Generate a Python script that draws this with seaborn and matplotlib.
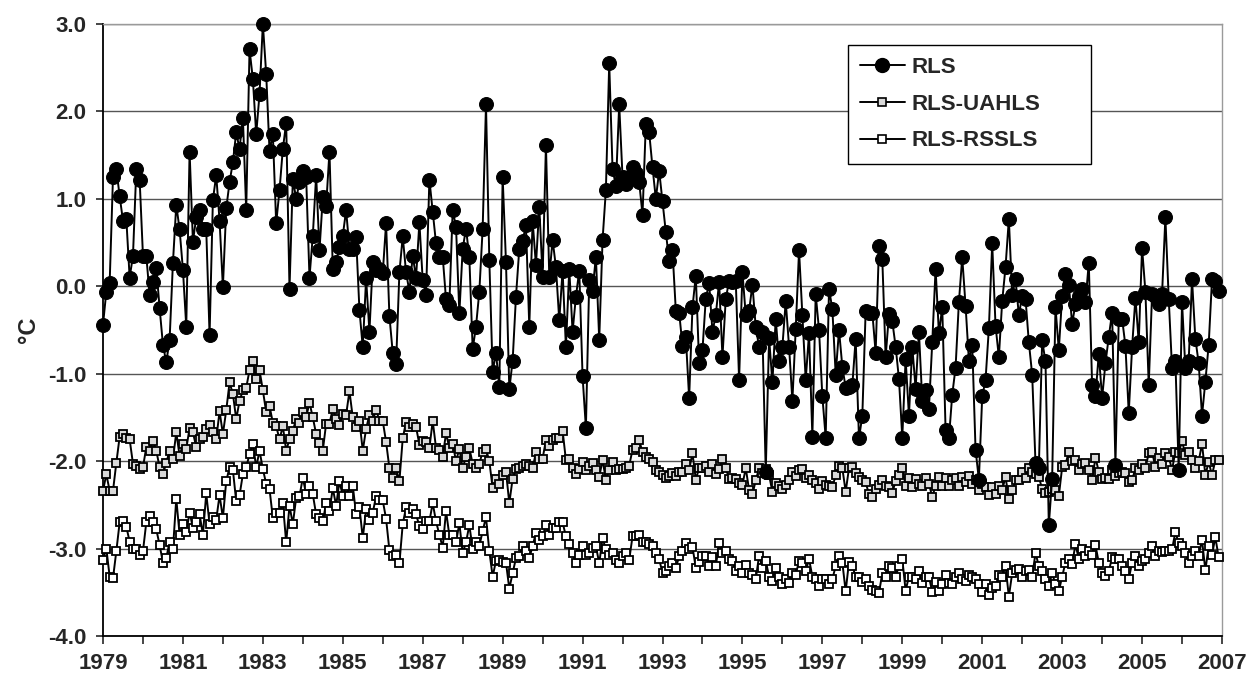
import numpy as np
import pandas as pd
import matplotlib
matplotlib.use("Agg")
import matplotlib.pyplot as plt
from matplotlib.lines import Line2D
import seaborn as sns

# ---- data (monthly, Jan 1979 - Dec 2006) ----
rls = [
    -0.44, -0.06, 0.04, 1.25, 1.34, 1.03, 0.75, 0.77, 0.10, 0.35, 1.34, 1.22,
    0.35, 0.35, -0.10, 0.05, 0.21, -0.25, -0.67, -0.87, -0.61, 0.27, 0.93, 0.65,
    0.19, -0.46, 1.54, 0.51, 0.79, 0.87, 0.66, 0.65, -0.56, 0.99, 1.27, 0.75,
    -0.01, 0.89, 1.19, 1.42, 1.76, 1.57, 1.93, 0.87, 2.71, 2.37, 1.74, 2.20,
    3.00, 2.43, 1.55, 1.74, 0.72, 1.10, 1.57, 1.87, -0.03, 1.23, 1.00, 1.19,
    1.32, 1.25, 0.10, 0.58, 1.27, 0.41, 1.02, 0.92, 1.54, 0.20, 0.28, 0.45,
    0.58, 0.87, 0.43, 0.43, 0.56, -0.27, -0.70, 0.09, -0.52, 0.28, 0.19, 0.20,
    0.15, 0.72, -0.34, -0.76, -0.89, 0.16, 0.57, 0.16, -0.06, 0.35, 0.10, 0.73,
    0.07, -0.10, 1.22, 0.85, 0.49, 0.34, 0.34, -0.15, -0.21, 0.87, 0.68, -0.31,
    0.43, 0.66, 0.33, -0.72, -0.46, -0.06, 0.66, 2.08, 0.30, -0.98, -0.76, -1.15,
    1.25, 0.28, -1.18, -0.85, -0.12, 0.43, 0.52, 0.70, -0.46, 0.75, 0.24, 0.91,
    0.11, 1.62, 0.11, 0.53, 0.22, -0.39, 0.18, -0.70, 0.20, -0.52, -0.12, 0.18,
    -1.03, -1.62, 0.07, -0.05, 0.34, -0.61, 0.53, 1.10, 2.55, 1.34, 1.15, 2.08,
    1.25, 1.17, 1.25, 1.36, 1.30, 1.19, 0.82, 1.86, 1.76, 1.36, 1.00, 1.32,
    0.97, 0.62, 0.29, 0.41, -0.28, -0.30, -0.68, -0.58, -1.28, -0.24, 0.12, -0.88,
    -0.73, -0.14, 0.04, -0.52, -0.33, 0.05, -0.81, -0.14, 0.06, 0.05, 0.06, -1.07,
    0.16, -0.33, -0.28, 0.02, -0.47, -0.69, -0.52, -2.12, -0.59, -1.10, -0.37, -0.86,
    -0.69, -0.17, -0.69, -1.31, -0.49, 0.41, -0.33, -1.07, -0.54, -1.72, -0.09, -0.50,
    -1.26, -1.73, -0.03, -0.26, -1.01, -0.50, -0.92, -1.16, -1.15, -1.13, -0.60, -1.74,
    -1.48, -0.28, -0.30, -0.30, -0.76, 0.46, 0.31, -0.81, -0.32, -0.40, -0.69, -1.06,
    -1.73, -0.83, -1.48, -0.69, -1.17, -0.52, -1.31, -1.19, -1.40,
    -0.64, 0.20, -0.54, -0.24, -1.64, -1.74, -1.24, -0.93, -0.18, 0.33, -0.22,
    -0.85, -0.67, -1.87, -2.21, -1.26, -1.07, -0.48, 0.49, -0.45, -0.81, -0.17, 0.22,
    0.77, -0.10, 0.08, -0.33, -0.11, -0.14, -0.64, -1.01, -2.02, -2.08, -0.62, -0.86,
    -2.73, -2.20, -0.24, -0.73, -0.11, 0.14, 0.02, -0.43, -0.20, -0.11, -0.03, -0.18,
    0.27, -1.13, -1.26, -0.77, -1.28, -0.88, -0.58, -0.30, -2.04, -0.37, -0.37, -0.68,
    -1.45, -0.70, -0.13, -0.64, 0.44, -0.06, -1.13, -0.09, -0.11, -0.20, -0.09, 0.79,
    -0.14, -0.94, -0.85, -2.10, -0.18, -0.94, -0.85, 0.08, -0.60, -0.88, -1.48, -1.09,
    -0.67, 0.08, 0.06, -0.05,
]

rls_uahls = [
    -2.34, -2.15, -2.34, -2.34, -2.02, -1.72, -1.69, -1.73, -1.75, -2.03, -2.05, -2.09,
    -2.07, -1.84, -1.88, -1.77, -1.88, -2.07, -2.15, -2.02, -1.88, -1.98, -1.67, -1.94,
    -1.80, -1.86, -1.62, -1.67, -1.84, -1.75, -1.72, -1.63, -1.59, -1.67, -1.75, -1.43,
    -1.69, -1.42, -1.10, -1.23, -1.52, -1.31, -1.19, -1.16, -0.96, -0.85, -1.06, -0.96,
    -1.19, -1.44, -1.37, -1.56, -1.60, -1.75, -1.60, -1.88, -1.75, -1.65, -1.52, -1.56,
    -1.44, -1.50, -1.33, -1.50, -1.69, -1.79, -1.88, -1.57, -1.57, -1.40, -1.52, -1.59,
    -1.46, -1.47, -1.20, -1.50, -1.61, -1.54, -1.88, -1.63, -1.47, -1.54, -1.41, -1.54,
    -1.54, -1.78, -2.08, -2.19, -2.08, -2.23, -1.74, -1.55, -1.61, -1.58, -1.61, -1.81,
    -1.77, -1.78, -1.85, -1.54, -1.85, -1.87, -1.95, -1.68, -1.85, -1.80, -2.00, -1.86,
    -2.08, -1.95, -1.85, -2.03, -2.08, -2.03, -1.89, -1.86, -2.00, -2.31, -2.20, -2.26,
    -2.16, -2.12, -2.48, -2.20, -2.09, -2.08, -2.05, -2.03, -2.05, -2.08, -1.90, -1.97,
    -1.97, -1.76, -1.83, -1.76, -1.74, -1.74, -1.65, -1.99, -1.97, -2.08, -2.15, -2.09,
    -2.01, -2.10, -2.05, -2.02, -2.10, -2.18, -1.99, -2.21, -2.10, -2.01, -2.10, -2.09,
    -2.09, -2.08, -2.05, -1.87, -1.85, -1.76, -1.90, -1.95, -1.97, -2.01, -2.10, -2.12,
    -2.16, -2.19, -2.17, -2.14, -2.17, -2.12, -2.12, -2.03, -2.10, -1.91, -2.21, -2.08,
    -2.08, -2.05, -2.12, -2.03, -2.15, -2.09, -1.98, -2.08, -2.20, -2.19, -2.20, -2.25,
    -2.27, -2.08, -2.33, -2.38, -2.22, -2.08, -2.14, -2.09, -2.16, -2.35, -2.25, -2.28,
    -2.32, -2.27, -2.22, -2.12, -2.17, -2.10, -2.09, -2.19, -2.16, -2.22, -2.25, -2.32,
    -2.23, -2.27, -2.28, -2.30, -2.16, -2.05, -2.08, -2.35, -2.08, -2.07, -2.14, -2.18,
    -2.22, -2.24, -2.38, -2.41, -2.32, -2.27, -2.22, -2.28, -2.30, -2.36, -2.23, -2.16,
    -2.08, -2.28, -2.19, -2.30, -2.20, -2.26, -2.28, -2.19, -2.26, -2.41,
    -2.28, -2.18, -2.28, -2.19, -2.28, -2.22, -2.19, -2.28, -2.18, -2.24,
    -2.17, -2.26, -2.22, -2.33, -2.26, -2.30, -2.39, -2.30, -2.38, -2.28,
    -2.33, -2.18, -2.43, -2.33, -2.22, -2.22, -2.12, -2.19, -2.08, -2.12,
    -2.15, -2.18, -2.32, -2.37, -2.35, -2.32, -2.33, -2.40, -2.07, -2.04,
    -1.89, -2.00, -1.99, -2.10, -2.03, -2.02, -2.10, -2.22, -1.96, -2.12,
    -2.20, -2.19, -2.20, -2.10, -2.17, -2.13, -2.12, -2.14, -2.24, -2.22,
    -2.08, -2.10, -2.03, -2.08, -1.91, -1.89, -2.07, -1.96, -2.03, -1.91,
    -1.95, -2.10, -1.89, -1.91, -1.77, -1.93, -1.89, -1.99, -2.08, -2.00,
    -1.80, -2.16, -2.01, -2.16, -1.99, -1.99,
]

rls_rssls = [
    -3.13, -3.00, -3.32, -3.34, -3.03, -2.70, -2.68, -2.75, -2.92, -3.00, -3.01, -3.07,
    -3.03, -2.70, -2.63, -2.70, -2.78, -2.96, -3.16, -3.11, -2.92, -3.01, -2.43, -2.84,
    -2.72, -2.81, -2.59, -2.76, -2.70, -2.61, -2.84, -2.37, -2.72, -2.64, -2.67, -2.39,
    -2.65, -2.23, -2.07, -2.10, -2.46, -2.39, -2.15, -2.07, -1.92, -1.80, -2.07, -1.88,
    -2.09, -2.26, -2.32, -2.65, -2.59, -2.59, -2.48, -2.93, -2.51, -2.72, -2.42, -2.40,
    -2.19, -2.38, -2.29, -2.38, -2.61, -2.65, -2.69, -2.48, -2.57, -2.31, -2.51, -2.23,
    -2.40, -2.28, -2.40, -2.28, -2.61, -2.53, -2.88, -2.55, -2.67, -2.59, -2.40, -2.44,
    -2.45, -2.66, -3.02, -3.09, -3.07, -3.17, -2.72, -2.53, -2.59, -2.55, -2.61, -2.74,
    -2.78, -2.69, -2.69, -2.48, -2.69, -2.84, -2.99, -2.57, -2.85, -2.85, -2.93, -2.71,
    -3.05, -2.93, -2.73, -3.01, -2.93, -2.97, -2.80, -2.64, -3.03, -3.32, -3.14, -3.13,
    -3.15, -3.16, -3.46, -3.28, -3.11, -3.09, -2.97, -3.03, -3.11, -2.97, -2.82, -2.90,
    -2.86, -2.73, -2.85, -2.76, -2.76, -2.70, -2.70, -2.86, -2.95, -3.05, -3.16, -3.07,
    -2.97, -3.07, -3.05, -2.99, -2.97, -3.17, -2.88, -3.01, -3.07, -3.05, -3.13, -3.17,
    -3.09, -3.05, -3.13, -2.86, -2.86, -2.85, -2.92, -2.93, -2.95, -2.97, -3.05, -3.12,
    -3.28, -3.26, -3.20, -3.16, -3.22, -3.09, -3.03, -2.94, -3.01, -2.98, -3.22, -3.15,
    -3.08, -3.08, -3.20, -3.10, -3.20, -2.94, -3.05, -3.03, -3.12, -3.14, -3.26, -3.20,
    -3.28, -3.19, -3.28, -3.30, -3.35, -3.08, -3.22, -3.14, -3.32, -3.37, -3.22, -3.32,
    -3.40, -3.35, -3.39, -3.28, -3.30, -3.14, -3.16, -3.26, -3.12, -3.32, -3.35, -3.43,
    -3.35, -3.35, -3.41, -3.35, -3.20, -3.08, -3.16, -3.49, -3.15, -3.20, -3.32, -3.33,
    -3.38, -3.35, -3.43, -3.47, -3.49, -3.51, -3.28, -3.32, -3.20, -3.22, -3.32, -3.20,
    -3.12, -3.48, -3.32, -3.32, -3.35, -3.26, -3.39, -3.32, -3.32, -3.50,
    -3.38, -3.49, -3.41, -3.30, -3.39, -3.41, -3.32, -3.28, -3.35, -3.37,
    -3.30, -3.33, -3.35, -3.41, -3.50, -3.41, -3.53, -3.45, -3.43, -3.30,
    -3.33, -3.20, -3.55, -3.28, -3.24, -3.23, -3.32, -3.26, -3.24, -3.32,
    -3.05, -3.20, -3.26, -3.35, -3.43, -3.28, -3.41, -3.49, -3.32, -3.16,
    -3.12, -3.18, -2.95, -3.12, -3.00, -3.08, -3.03, -3.07, -2.96, -3.16,
    -3.28, -3.31, -3.26, -3.10, -3.12, -3.12, -3.20, -3.26, -3.35, -3.16,
    -3.08, -3.20, -3.14, -3.12, -3.05, -2.97, -3.08, -3.03, -3.04, -3.03,
    -3.03, -3.01, -2.81, -2.94, -2.97, -3.05, -3.16, -3.08, -3.03, -3.08,
    -2.90, -3.25, -2.97, -3.07, -2.87, -3.10,
]

series_names = ["RLS", "RLS-UAHLS", "RLS-RSSLS"]
start_year = 1979
end_year = 2007
y_ticks = [3.0, 2.0, 1.0, 0.0, -1.0, -2.0, -3.0, -4.0]


def to_frame(values, name):
    n = len(values)
    return pd.DataFrame({"year": start_year + np.arange(n) / 12.0,
                         "value": values, "series": name})


df_rls = to_frame(rls, series_names[0])
df_uah = to_frame(rls_uahls, series_names[1])
df_rss = to_frame(rls_rssls, series_names[2])

sns.set_style("white")
plt.rcParams["font.family"] = ["Liberation Sans", "DejaVu Sans"]
plt.rcParams["axes.unicode_minus"] = False

W, H = 1258, 674
fig = plt.figure(figsize=(W / 100, H / 100), dpi=100)
ax = fig.add_axes([103 / W, 1 - 636 / H, (1222 - 103) / W, (636 - 24) / H])

common = dict(ax=ax, x="year", y="value", color="black", linewidth=1.4,
              clip_on=False, legend=False, errorbar=None)
sns.lineplot(data=df_rss, marker="s", markersize=6.0, markerfacecolor="white",
             markeredgecolor="black", markeredgewidth=1.3, zorder=3, **common)
sns.lineplot(data=df_uah, marker="s", markersize=6.0, markerfacecolor="#d9d9d9",
             markeredgecolor="black", markeredgewidth=1.3, zorder=4, **common)
sns.lineplot(data=df_rls, marker="o", markersize=10, markerfacecolor="black",
             markeredgecolor="black", zorder=5, **common)

ax.set_xlim(start_year, end_year)
ax.set_ylim(-4.0, 3.0)
years = list(range(start_year, end_year + 1))
ax.set_xticks(years)
ax.set_xticklabels([str(y) if (y - start_year) % 2 == 0 else "" for y in years],
                   fontsize=16, fontweight="bold")
ax.set_yticks(y_ticks)
ax.set_yticklabels([f"{v:.1f}" for v in y_ticks], fontsize=16, fontweight="bold")
ax.tick_params(axis="x", direction="out", length=6, width=1.2, pad=6, bottom=True)
ax.tick_params(axis="y", direction="out", length=5, width=1.2, pad=7, left=True)

ax.grid(axis="y", color="#555555", linewidth=1.0)
ax.grid(axis="x", visible=False)
ax.set_axisbelow(True)
for side in ["left", "bottom"]:
    ax.spines[side].set_color("black")
    ax.spines[side].set_linewidth(1.3)
for side in ["top", "right"]:
    ax.spines[side].set_color("#9a9a9a")
    ax.spines[side].set_linewidth(1.0)

ax.set_xlabel("")
ax.set_ylabel("°C", fontsize=17, fontweight="bold", labelpad=6)

handles = [
    Line2D([], [], color="black", lw=1.4, marker="o", markersize=10,
           markerfacecolor="black"),
    Line2D([], [], color="black", lw=1.4, marker="s", markersize=5.5,
           markerfacecolor="#d9d9d9", markeredgewidth=1.2),
    Line2D([], [], color="black", lw=1.4, marker="s", markersize=5.5,
           markerfacecolor="white", markeredgewidth=1.2),
]
leg = ax.legend(handles, series_names, loc="upper left",
                bbox_to_anchor=(848 / W, 1 - 165 / H, 243 / W, 120 / H),
                bbox_transform=fig.transFigure, mode="expand",
                frameon=True, fancybox=False, framealpha=1, edgecolor="black",
                prop={"size": 16, "weight": "bold"}, handlelength=2.0,
                handletextpad=0.3, labelspacing=0.7, borderpad=0.55,
                borderaxespad=0)
leg.get_frame().set_linewidth(1.0)
leg.set_zorder(10)

fig.savefig("out.png", dpi=100)
